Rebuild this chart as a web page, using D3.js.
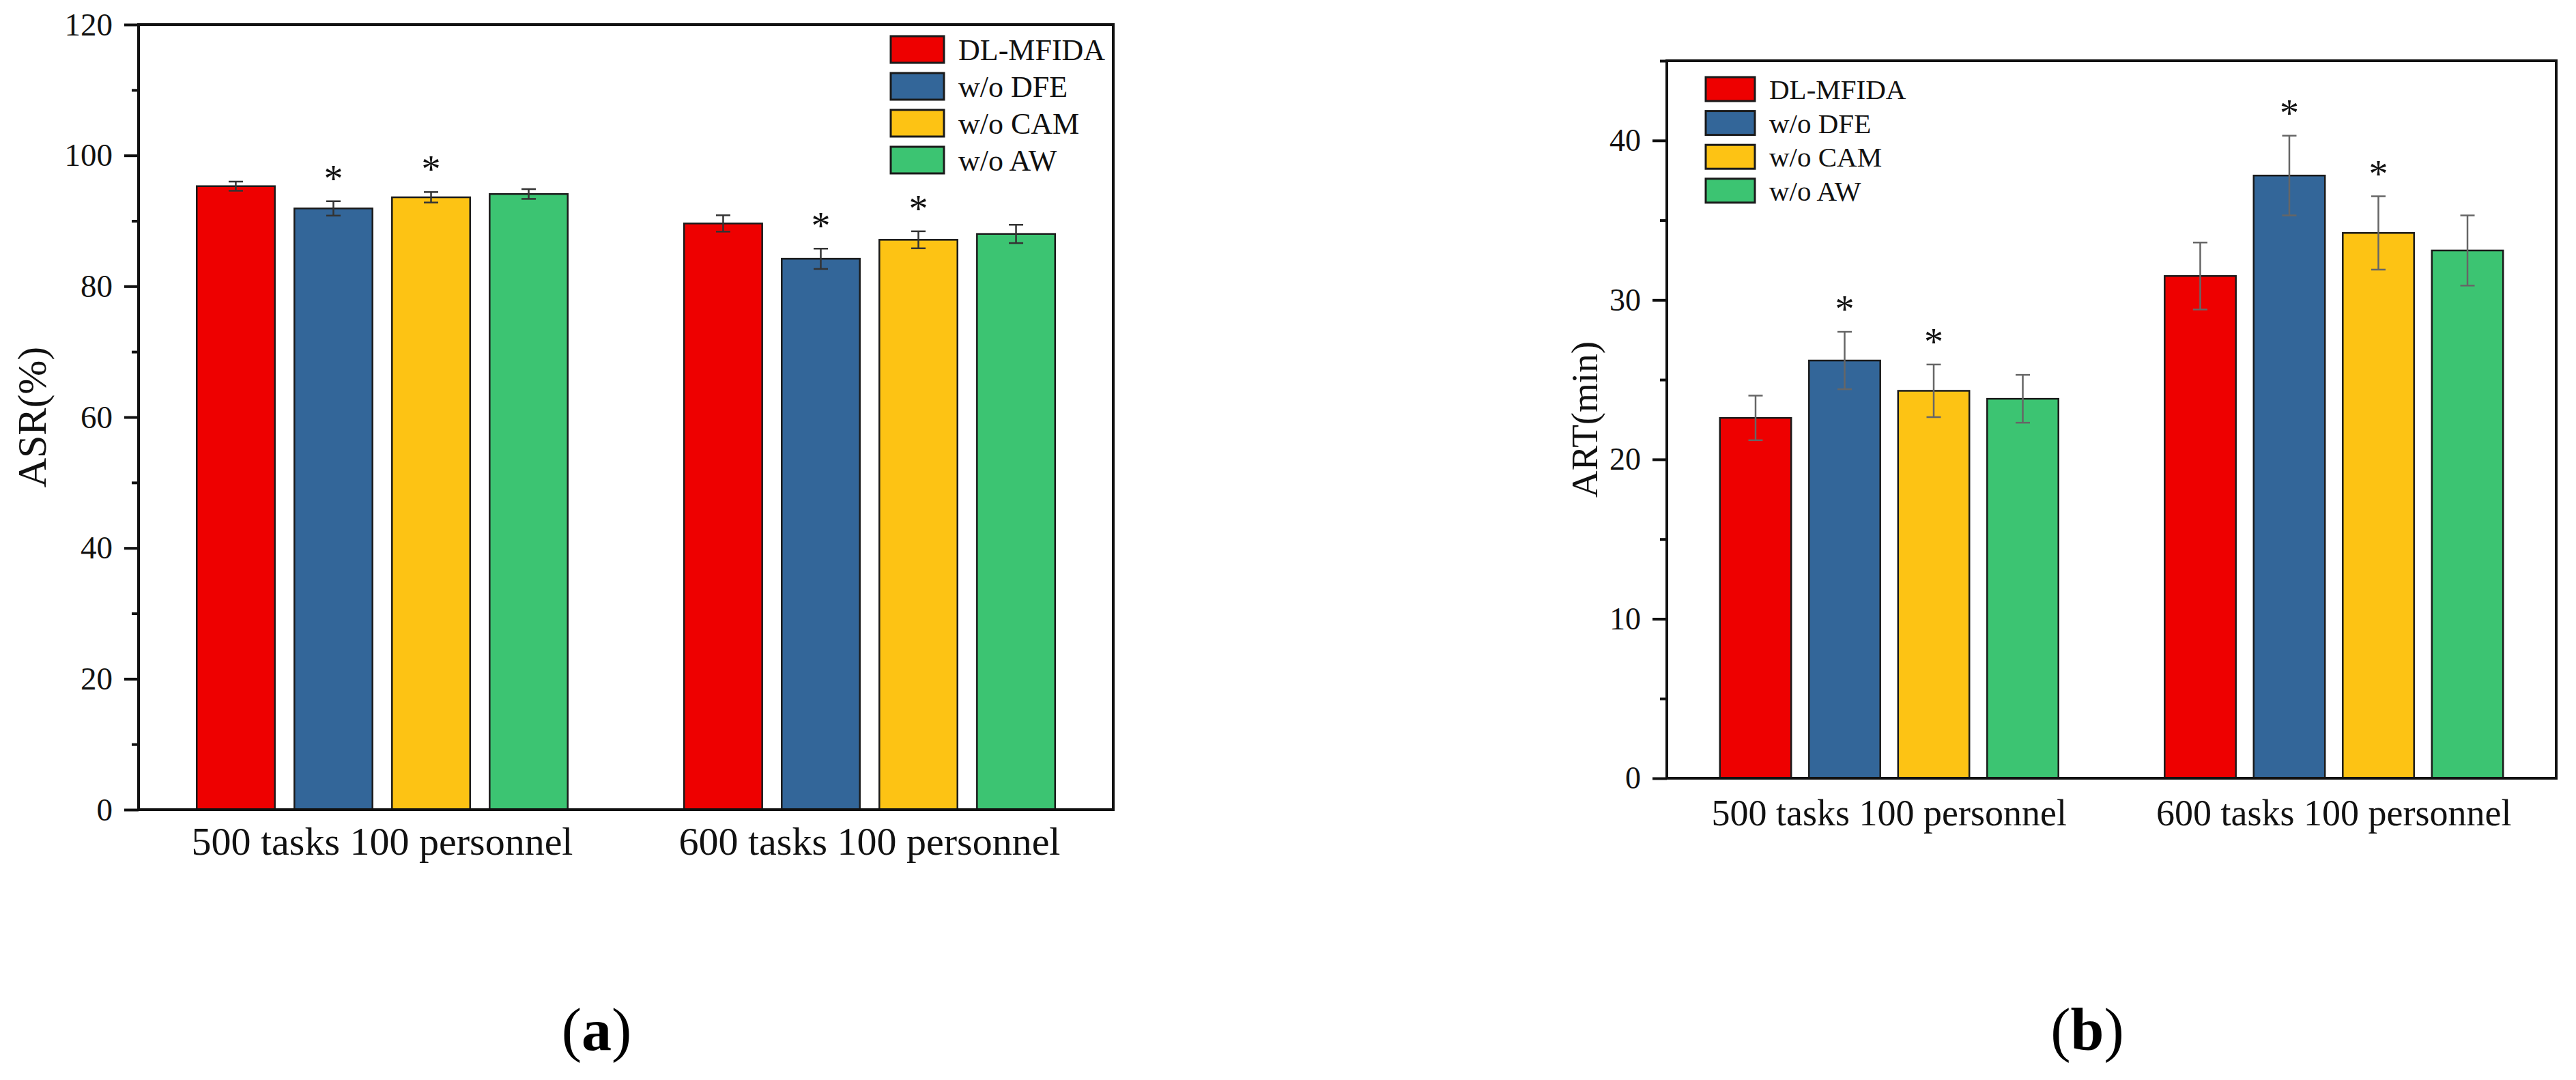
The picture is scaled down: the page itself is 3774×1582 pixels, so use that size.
<!DOCTYPE html>
<html>
<head>
<meta charset="utf-8">
<script src="https://cdn.jsdelivr.net/npm/d3@7"></script>
<style>
  body { margin:0; background:#fff; }
  svg { display:block; font-family:"Liberation Serif","Times New Roman",serif; }
</style>
</head>
<body>
<svg id="chart" width="3774" height="1582"></svg>
<script>
// data
var groups = ['500 tasks 100 personnel', '600 tasks 100 personnel'];
var methods = ['DL-MFIDA', 'w/o DFE', 'w/o CAM', 'w/o AW'];
var colors = ['#ee0000', '#336699', '#fdc314', '#3cc472'];

var asrMean = [[95.3, 91.9, 93.6, 94.1], [89.6, 84.2, 87.1, 88.0]];
var asrErr  = [[0.7, 1.1, 0.8, 0.75], [1.25, 1.55, 1.3, 1.4]];
var artMean = [[22.6, 26.2, 24.3, 23.8], [31.5, 37.8, 34.2, 33.1]];
var artErr  = [[1.4, 1.8, 1.65, 1.5], [2.1, 2.5, 2.3, 2.2]];

// methods marked with * (significant)
var starred = ['w/o DFE', 'w/o CAM'];

var asrTicks = [0, 20, 40, 60, 80, 100, 120];
var asrMinor = [10, 30, 50, 70, 90, 110];
var artTicks = [0, 10, 20, 30, 40];
var artMinor = [5, 15, 25, 35, 45];

var svg = d3.select('#chart');

function drawPanel(p){
    var g = svg.append('g');

    var y = d3.scaleLinear().domain(p.yDomain).range([p.b, p.t]);
    var x0 = d3.scaleBand().domain(groups).range([p.l, p.r]).padding(0);
    var x1 = d3.scaleBand().domain(methods).range([0, x0.bandwidth()])
        .paddingInner(0.2).paddingOuter(0.596);

    // bars
    groups.forEach(function(grp, gi){
        var gg = g.append('g').attr('transform', 'translate(' + x0(grp) + ',0)');
        methods.forEach(function(m, mi){
            var v = p.mean[gi][mi], e = p.err[gi][mi];
            var cx = x1(m) + x1.bandwidth() / 2;
            gg.append('rect')
                .attr('x', x1(m))
                .attr('y', y(v))
                .attr('width', x1.bandwidth())
                .attr('height', y(0) - y(v))
                .style('fill', colors[mi])
                .style('stroke', '#1a1a1a')
                .style('stroke-width', 2.5);

            // error bar
            gg.append('line')
                .attr('x1', cx).attr('x2', cx)
                .attr('y1', y(v - e)).attr('y2', y(v + e))
                .style('stroke', p.errColor).style('stroke-width', 2.5);
            [v - e, v + e].forEach(function(val){
                gg.append('line')
                    .attr('x1', cx - 10.5).attr('x2', cx + 10.5)
                    .attr('y1', y(val)).attr('y2', y(val))
                    .style('stroke', p.errColor).style('stroke-width', 2.5);
            });

            if(starred.indexOf(m) >= 0){
                gg.append('text')
                    .attr('x', cx)
                    .attr('y', y(v + e) - 40 + 26)
                    .attr('text-anchor', 'middle')
                    .style('font-size', '56px')
                    .style('fill', '#111')
                    .text('*');
            }
        });
    });

    // y axis, major and minor ticks
    var yAxis = d3.axisLeft(y).tickValues(p.ticks).tickSize(21).tickPadding(17)
        .tickFormat(d3.format('d'));
    var ax = g.append('g').attr('transform', 'translate(' + p.l + ',0)').call(yAxis);
    ax.select('.domain').remove();
    ax.selectAll('line').style('stroke', '#111').style('stroke-width', 4);
    ax.selectAll('text')
        .style('font-family', '"Liberation Serif", serif')
        .style('font-size', p.tickFont + 'px')
        .style('fill', '#111');

    var mAxis = d3.axisLeft(y).tickValues(p.minor).tickSize(10).tickFormat('');
    var mx = g.append('g').attr('transform', 'translate(' + p.l + ',0)').call(mAxis);
    mx.select('.domain').remove();
    mx.selectAll('line').style('stroke', '#111').style('stroke-width', 4);

    // frame
    g.append('rect')
        .attr('x', p.l).attr('y', p.t)
        .attr('width', p.r - p.l).attr('height', p.b - p.t)
        .style('fill', 'none').style('stroke', '#111').style('stroke-width', 4);

    // category labels
    groups.forEach(function(grp){
        g.append('text')
            .attr('x', x0(grp) + x0.bandwidth() / 2)
            .attr('y', p.b + p.xLabelDy)
            .attr('text-anchor', 'middle')
            .style('font-size', p.xFont + 'px')
            .style('fill', '#111')
            .text(grp);
    });

    // y title
    g.append('text')
        .attr('transform', 'translate(' + p.yTitleX + ',' + ((p.t + p.b) / 2) + ') rotate(-90)')
        .attr('text-anchor', 'middle')
        .style('font-size', p.yTitleFont + 'px')
        .style('fill', '#111')
        .text(p.yTitle);

    // legend
    var lg = g.append('g').attr('transform', 'translate(' + p.legX + ',' + p.legY + ')');
    methods.forEach(function(m, mi){
        lg.append('rect')
            .attr('x', 0).attr('y', mi * p.legStep)
            .attr('width', p.swW).attr('height', p.swH)
            .style('fill', colors[mi])
            .style('stroke', '#1a1a1a').style('stroke-width', 3);
        lg.append('text')
            .attr('x', p.swW + 21)
            .attr('y', mi * p.legStep + p.swH / 2 + p.legFont * 0.36)
            .style('font-size', p.legFont + 'px')
            .style('fill', '#111')
            .text(m);
    });

    // panel caption
    var cap = g.append('text')
        .attr('x', p.capX).attr('y', 1538)
        .attr('text-anchor', 'middle')
        .style('font-size', '88px')
        .style('fill', '#000');
    cap.append('tspan').text('(');
    cap.append('tspan').style('font-weight', 'bold').text(p.cap);
    cap.append('tspan').text(')');
}

drawPanel({
    l:203, r:1631, t:36, b:1186,
    yDomain:[0, 120], ticks:asrTicks, minor:asrMinor,
    mean:asrMean, err:asrErr, errColor:'#333',
    tickFont:47, xFont:58, xLabelDy:66,
    yTitle:'ASR(%)', yTitleX:67, yTitleFont:60,
    legX:1305, legY:53, legStep:54, swW:78, swH:39, legFont:44,
    capX:874, cap:'a'
});

drawPanel({
    l:2442, r:3745, t:89, b:1140,
    yDomain:[0, 45], ticks:artTicks, minor:artMinor,
    mean:artMean, err:artErr, errColor:'#666',
    tickFont:46, xFont:54, xLabelDy:69,
    yTitle:'ART(min)', yTitleX:2340, yTitleFont:55,
    legX:2499, legY:113, legStep:49.6, swW:72, swH:35, legFont:41,
    capX:3058, cap:'b'
});
</script>
</body>
</html>
